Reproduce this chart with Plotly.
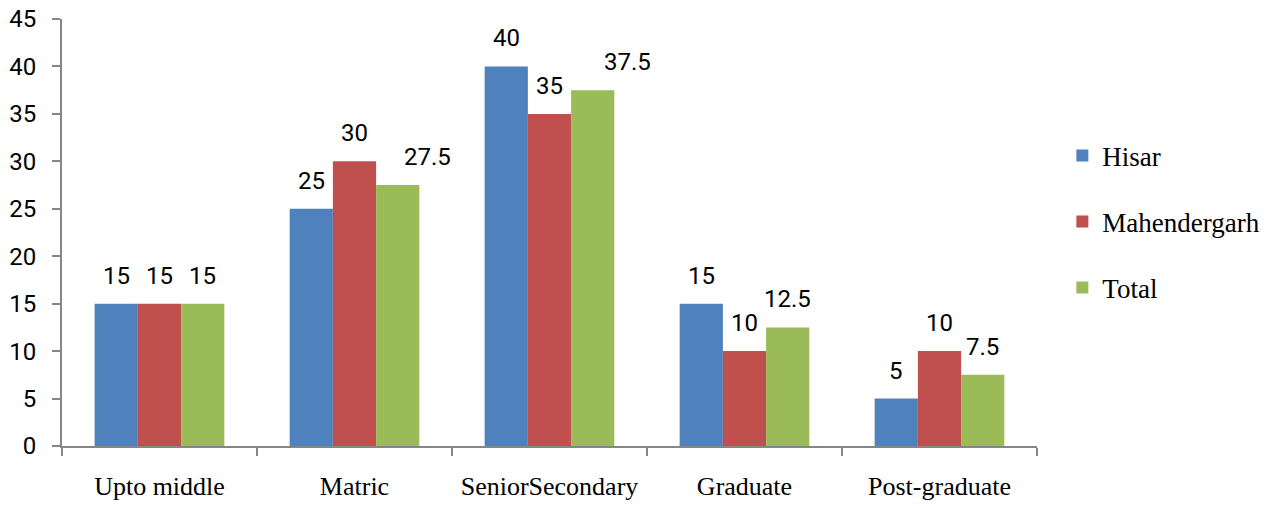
import plotly.graph_objects as go

categories = ["Upto middle", "Matric", "SeniorSecondary", "Graduate", "Post-graduate"]
hisar = [15, 25, 40, 15, 5]
mahendergarh = [15, 30, 35, 10, 10]
total = [15, 27.5, 37.5, 12.5, 7.5]
series_names = ["Hisar", "Mahendergarh", "Total"]
colors = ["#4F81BD", "#C0504D", "#9BBB59"]

BARGAP = 0.335
# manual horizontal nudges (px) of a few value labels, as in the original
label_nudge = {("Total", "Matric"): 30, ("Total", "SeniorSecondary"): 35}

fig = go.Figure()
series = [hisar, mahendergarh, total]
n = len(series)
bw = (1 - BARGAP) / n
annotations = []
for si, (name, vals, col) in enumerate(zip(series_names, series, colors)):
    fig.add_trace(go.Bar(
        x=categories, y=vals, name=name, legendgroup=name,
        marker=dict(color=col, line=dict(width=0)),
    ))
    for ci, (cat, v) in enumerate(zip(categories, vals)):
        annotations.append(dict(
            x=ci + (si - (n - 1) / 2) * bw, y=v, xref="x", yref="y",
            text=f"{v:g}", showarrow=False, yanchor="bottom", xanchor="center",
            yshift=12, xshift=label_nudge.get((name, cat), 0),
            font=dict(family="Roboto", size=24, color="black"),
        ))

fig.update_layout(
    width=1277, height=506,
    margin=dict(l=62, r=237, t=19, b=60),
    paper_bgcolor="white", plot_bgcolor="white",
    barmode="group", bargap=BARGAP, bargroupgap=0,
    annotations=annotations,
    showlegend=True,
    legend=dict(
        x=1.026, y=0.525, xanchor="left", yanchor="middle",
        font=dict(family="Liberation Serif", size=27, color="black"),
        traceorder="grouped", tracegroupgap=28,
        itemwidth=30,
    ),
    xaxis=dict(
        showline=True, linecolor="#868686", linewidth=2,
        ticks="outside", tickson="boundaries", ticklen=8, tickcolor="#868686", tickwidth=2,
        tickfont=dict(family="Liberation Serif", size=26, color="black"),
        ticklabelstandoff=16, tickangle=0, automargin=False,
        showgrid=False,
    ),
    yaxis=dict(
        range=[0, 45], dtick=5, showline=True, linecolor="#868686", linewidth=2,
        ticks="outside", ticklen=8, tickcolor="#868686", tickwidth=2,
        tickfont=dict(family="Roboto", size=24, color="black"),
        ticklabelstandoff=11, automargin=False, ticklabeloverflow="allow",
        showgrid=False, zeroline=False,
    ),
)

fig.write_html(
    "out.html",
    config={"displayModeBar": False},
    post_script="document.body.style.margin='0';document.body.style.overflow='hidden';",
)
